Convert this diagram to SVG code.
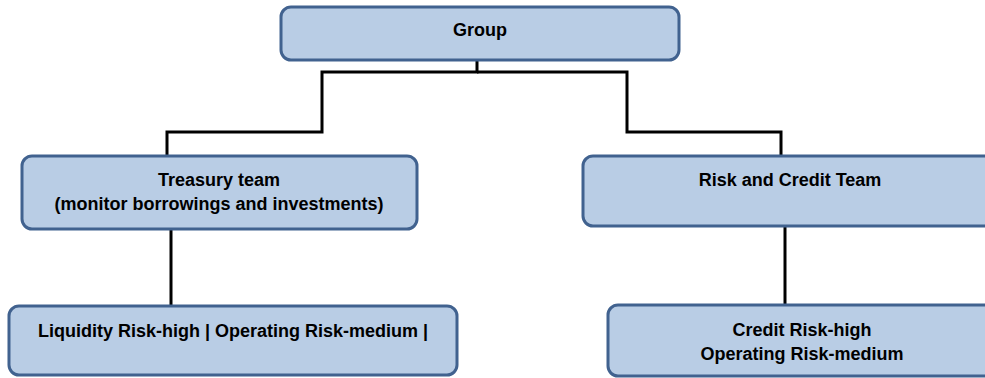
<svg xmlns="http://www.w3.org/2000/svg" width="985" height="378" viewBox="0 0 985 378">
<style>
.box{fill:#b9cde5;stroke:#41628f;stroke-width:3}
.lbl{font-family:"Liberation Sans",Arial,sans-serif;font-weight:bold;font-size:18px;fill:#000;text-anchor:middle}
.conn{fill:none;stroke:#000;stroke-width:3}
</style>
<rect width="985" height="378" fill="#fff"/>
<g id="connectors">
<path class="conn" d="M477,60 V72 H322 V132 H167 V155"/>
<path class="conn" d="M477,72 H627 V132 H781 V155"/>
<path class="conn" d="M171,229 V306"/>
<path class="conn" d="M785,227 V305"/>
</g>
<g id="group">
<rect class="box" x="281" y="7" width="398" height="53" rx="10"/>
<text class="lbl" x="480" y="36">Group</text>
</g>
<g id="treasury">
<rect class="box" x="22" y="156" width="395" height="73" rx="10"/>
<text class="lbl" x="219" y="186">Treasury team</text>
<text class="lbl" x="219" y="210">(monitor borrowings and investments)</text>
</g>
<g id="risk">
<rect class="box" x="583" y="156" width="420" height="70" rx="10"/>
<text class="lbl" x="790" y="186">Risk and Credit Team</text>
</g>
<g id="liquidity">
<rect class="box" x="9" y="306" width="448" height="69" rx="10"/>
<text class="lbl" x="233" y="337">Liquidity Risk-high | Operating Risk-medium |</text>
</g>
<g id="credit">
<rect class="box" x="608" y="305" width="400" height="71" rx="10"/>
<text class="lbl" x="802" y="336">Credit Risk-high</text>
<text class="lbl" x="802" y="360">Operating Risk-medium</text>
</g>
</svg>
